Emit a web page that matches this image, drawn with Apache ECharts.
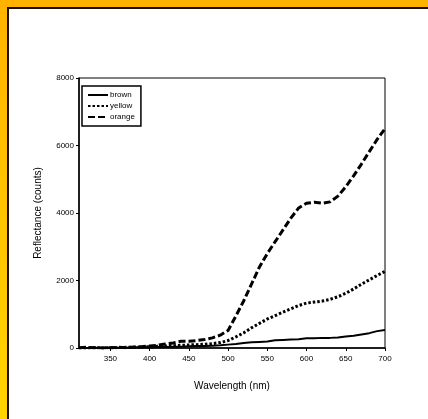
<!DOCTYPE html>
<html>
<head>
<meta charset="utf-8">
<script src="https://cdn.jsdelivr.net/npm/echarts@6/dist/echarts.min.js"></script>
<style>
  html, body { margin: 0; padding: 0; }
  #frame {
    position: absolute; left: 0; top: 0; width: 428px; height: 419px;
    background: linear-gradient(to bottom, #ffb300, #ffd400);
  }
  #paper {
    position: absolute; left: 7px; top: 7px; width: 421px; height: 412px;
    background: #fff;
    border-left: 2px solid #1a1200; border-top: 2px solid #1a1200;
    box-sizing: border-box;
  }
  #chart { position: absolute; left: 0; top: 0; width: 428px; height: 419px; }
</style>
</head>
<body>
<div id="frame"><div id="paper"></div></div>
<div id="chart"></div>
<script>
// wavelength (nm) shared by all three spectra
const wavelengths = [310, 320, 330, 340, 350, 360, 370, 380, 390, 400,
  410, 420, 430, 440, 450, 460, 470, 480, 490, 500,
  510, 520, 530, 540, 550, 560, 570, 580, 590, 600,
  610, 620, 630, 640, 650, 660, 670, 680, 690, 700];

const brown = [0, 0, 10, 0, 10, 10, 10, 20, 20, 20,
  30, 30, 40, 40, 50, 60, 60, 70, 80, 100,
  120, 150, 170, 180, 190, 230, 240, 250, 260, 290,
  290, 300, 300, 310, 340, 360, 400, 440, 500, 530];

const yellow = [0, 0, 10, 0, 10, 10, 20, 20, 30, 40,
  50, 60, 70, 80, 90, 100, 110, 130, 160, 220,
  330, 450, 600, 730, 860, 960, 1060, 1160, 1260, 1330,
  1360, 1390, 1440, 1520, 1620, 1750, 1890, 2020, 2150, 2270];

const orange = [10, 20, 10, 0, 10, 20, 10, 30, 40, 60,
  80, 120, 150, 200, 200, 220, 250, 300, 380, 520,
  950, 1400, 1900, 2400, 2800, 3150, 3500, 3850, 4150, 4290,
  4320, 4290, 4330, 4500, 4780, 5100, 5450, 5820, 6180, 6500];

const xTicks = [350, 400, 450, 500, 550, 600, 650, 700];

const pair = (vals) => wavelengths.map((w, i) => [w, vals[i]]);

const chart = echarts.init(document.getElementById("chart"));
const font = "Liberation Sans";

chart.setOption({
  animation: false,
  grid: {
    left: 79, right: 43, top: 78, bottom: 71,
    show: true, borderColor: "#000", borderWidth: 1, backgroundColor: "transparent"
  },
  legend: {
    orient: "vertical",
    left: 82, top: 86,
    padding: [5, 6, 5, 5],
    itemGap: 3,
    itemWidth: 20, itemHeight: 10,
    borderColor: "#000", borderWidth: 1.5,
    itemStyle: { opacity: 0 },
    textStyle: { fontFamily: font, fontSize: 8, color: "#000", padding: [0, 0, 0, -3] },
    data: ["brown", "yellow", "orange"]
  },
  xAxis: {
    type: "value",
    min: 310, max: 700,
    name: "Wavelength (nm)",
    nameLocation: "middle",
    nameGap: 33,
    nameTextStyle: { fontFamily: font, fontSize: 10, color: "#000" },
    splitLine: { show: false },
    axisLine: { lineStyle: { color: "#000", width: 1.5 } },
    axisTick: { customValues: xTicks, length: 3, lineStyle: { color: "#000" } },
    axisLabel: { customValues: xTicks, fontFamily: font, fontSize: 8, color: "#000", margin: 7 }
  },
  yAxis: {
    type: "value",
    min: 0, max: 8000, interval: 2000,
    name: "Reflectance (counts)",
    nameLocation: "middle",
    nameGap: 36,
    nameTextStyle: { fontFamily: font, fontSize: 10, color: "#000" },
    splitLine: { show: false },
    axisLine: { lineStyle: { color: "#000", width: 1.5 } },
    axisTick: { length: 3, lineStyle: { color: "#000" } },
    axisLabel: { fontFamily: font, fontSize: 8, color: "#000", margin: 5, formatter: (v) => String(v) }
  },
  series: [
    {
      name: "brown", type: "line", data: pair(brown),
      symbol: "none", color: "#000",
      lineStyle: { color: "#000", width: 2 }
    },
    {
      name: "yellow", type: "line", data: pair(yellow),
      symbol: "none", color: "#000",
      lineStyle: { color: "#000", width: 3, type: [2.5, 2] }
    },
    {
      name: "orange", type: "line", data: pair(orange),
      symbol: "none", color: "#000",
      lineStyle: { color: "#000", width: 3, type: [7, 3] }
    }
  ]
});
</script>
</body>
</html>
